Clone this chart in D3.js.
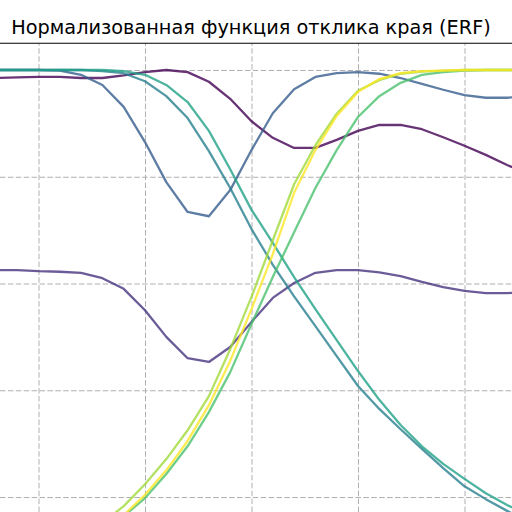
<!DOCTYPE html>
<html>
<head>
<meta charset="utf-8">
<script src="https://cdn.jsdelivr.net/npm/d3@7"></script>
<style>
  html, body { margin: 0; padding: 0; background: #ffffff; }
  svg { display: block; }
</style>
</head>
<body>
<div id="chart"></div>
<script>
// ---- Data ----
const title = "Нормализованная функция отклика края (ERF)";
const xPositions = [-2, -1, 0, 1, 2, 3, 4, 5, 6, 7, 8, 9, 10, 11, 12, 13, 14, 15, 16, 17, 18, 19, 20, 21, 22, 23];
const xGridTicks = [-5, 0, 5, 10, 15, 20, 25];
const yGridTicks = [0.0, 0.2, 0.4, 0.6, 0.8, 1.0];
const seriesColors = ["#440154", "#46327e", "#365c8d", "#277f8e", "#1fa187", "#4ac16d", "#a0da39", "#fde725"];

const erf1 = [0.985, 0.986, 0.987, 0.987, 0.985, 0.985, 0.990, 0.996, 1.000, 0.996, 0.978, 0.946, 0.904, 0.873, 0.854, 0.854, 0.869, 0.886, 0.897, 0.897, 0.889, 0.874, 0.858, 0.841, 0.822, 0.805];
const erf2 = [0.625, 0.625, 0.623, 0.622, 0.620, 0.610, 0.590, 0.550, 0.500, 0.460, 0.453, 0.481, 0.528, 0.573, 0.601, 0.620, 0.625, 0.625, 0.621, 0.614, 0.603, 0.593, 0.586, 0.582, 0.582, 0.584];
const erf3 = [1.000, 1.000, 1.000, 0.999, 0.991, 0.972, 0.931, 0.865, 0.790, 0.734, 0.726, 0.775, 0.850, 0.919, 0.964, 0.987, 0.994, 0.996, 0.993, 0.985, 0.974, 0.963, 0.953, 0.948, 0.948, 0.951];
const erf4 = [1.000, 1.000, 1.000, 1.000, 1.000, 0.998, 0.994, 0.979, 0.951, 0.910, 0.848, 0.779, 0.702, 0.635, 0.576, 0.520, 0.464, 0.408, 0.365, 0.327, 0.290, 0.254, 0.220, 0.196, 0.174, 0.153];
const erf5 = [1.000, 1.000, 1.000, 1.000, 1.000, 1.000, 0.998, 0.991, 0.972, 0.940, 0.886, 0.814, 0.738, 0.676, 0.612, 0.552, 0.494, 0.436, 0.382, 0.335, 0.295, 0.262, 0.234, 0.207, 0.185, 0.166];
const erf6 = [0.082, 0.087, 0.095, 0.104, 0.119, 0.138, 0.164, 0.198, 0.243, 0.295, 0.359, 0.434, 0.524, 0.612, 0.696, 0.779, 0.850, 0.912, 0.951, 0.976, 0.991, 0.996, 0.999, 1.000, 1.000, 1.000];
const erf7 = [0.089, 0.095, 0.102, 0.114, 0.129, 0.151, 0.183, 0.224, 0.271, 0.325, 0.389, 0.477, 0.575, 0.681, 0.786, 0.859, 0.918, 0.961, 0.981, 0.993, 0.997, 0.999, 1.000, 1.000, 1.000, 1.000];
const erf8 = [0.078, 0.084, 0.091, 0.100, 0.115, 0.136, 0.166, 0.204, 0.250, 0.305, 0.372, 0.455, 0.552, 0.655, 0.770, 0.850, 0.914, 0.959, 0.983, 0.994, 0.998, 0.999, 1.000, 1.000, 1.000, 1.000];

const allSeries = [erf1, erf2, erf3, erf4, erf5, erf6, erf7, erf8];

// ---- Layout ----
const W = 512, H = 512;
const svg = d3.select("#chart").append("svg")
  .attr("width", W).attr("height", H)
  .attr("viewBox", `0 0 ${W} ${H}`);

svg.append("rect").attr("width", W).attr("height", H).attr("fill", "#ffffff");

const x = d3.scaleLinear().domain([0, 20]).range([38.5, 464.5]);
const y = d3.scaleLinear().domain([0.2, 1.0]).range([497, 70]);
const topSpine = y(1.05);

svg.append("defs").append("clipPath").attr("id", "plotclip")
  .append("rect").attr("x", 0).attr("y", topSpine).attr("width", W).attr("height", H - topSpine);

const plot = svg.append("g").attr("clip-path", "url(#plotclip)");

// Grid via axes
const xGrid = d3.axisBottom(x).tickValues(xGridTicks).tickSize(-(H - topSpine)).tickFormat("");
const yGrid = d3.axisLeft(y).tickValues(yGridTicks).tickSize(-W).tickFormat("");

plot.append("g").attr("transform", `translate(0,${H})`).call(xGrid)
  .call(g => g.select(".domain").remove())
  .selectAll("line").attr("stroke", "#b0b0b0").attr("stroke-width", 1).attr("stroke-dasharray", "5.5,2.4");

plot.append("g").attr("transform", `translate(0,0)`).call(yGrid)
  .call(g => g.select(".domain").remove())
  .selectAll("line").attr("stroke", "#b0b0b0").attr("stroke-width", 1).attr("stroke-dasharray", "5.5,2.4");

// Lines
const line = d3.line().x((d, i) => x(xPositions[i])).y(d => y(d));
allSeries.forEach((s, k) => {
  plot.append("path")
    .datum(s)
    .attr("d", line)
    .attr("fill", "none")
    .attr("stroke", seriesColors[k])
    .attr("stroke-opacity", 0.8)
    .attr("stroke-width", 2.3)
    .attr("stroke-linejoin", "round");
});

// Top spine
svg.append("line").attr("x1", 0).attr("x2", W).attr("y1", topSpine).attr("y2", topSpine)
  .attr("stroke", "#000").attr("stroke-width", 1.1);

// Title
svg.append("text")
  .attr("x", 251).attr("y", 34)
  .attr("text-anchor", "middle")
  .attr("font-family", "DejaVu Sans, sans-serif")
  .attr("font-size", 19.3)
  .attr("fill", "#000")
  .text(title);
</script>
</body>
</html>
